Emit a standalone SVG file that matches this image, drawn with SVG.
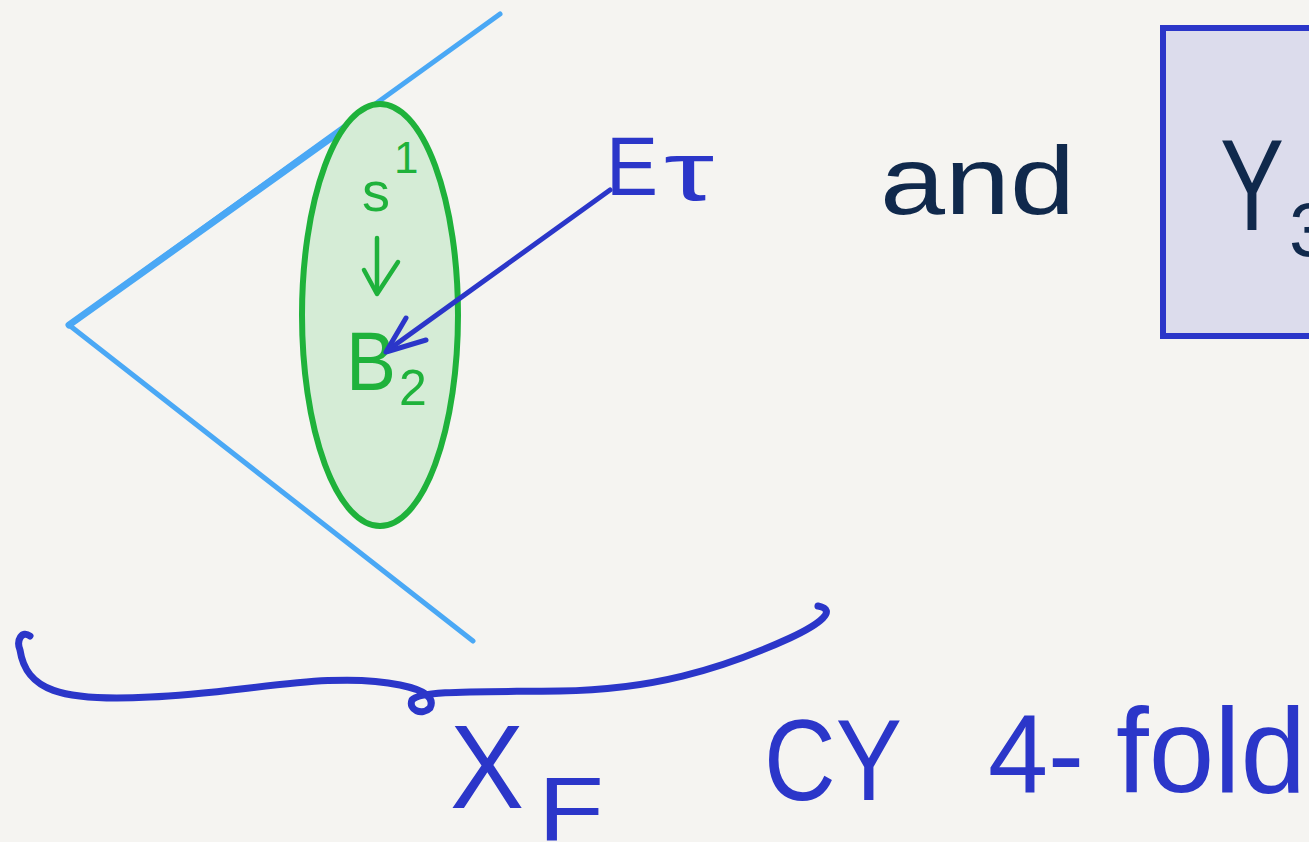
<svg xmlns="http://www.w3.org/2000/svg" width="1309" height="842" viewBox="0 0 1309 842">
<defs>
<style>
.hand{font-family:"Liberation Sans","DejaVu Sans",sans-serif;}
.blue{fill:#2b36c9;}
.green{fill:#1fb23b;}
.navy{fill:#10294c;}
.ink{fill:none;stroke-linecap:round;stroke-linejoin:round;}
</style>
</defs>
<rect width="1309" height="842" fill="#f5f4f1"/>

<g id="cone">
<path class="ink" d="M500 14 L69 325 L473 641" stroke="#4aa8f5" stroke-width="5"/>
<path class="ink" d="M380 103 L69 325" stroke="#4aa8f5" stroke-width="7"/>
</g>

<g id="fiber">
<ellipse cx="380" cy="315" rx="78" ry="211" fill="#d5ecd6" stroke="#1fb23b" stroke-width="6"/>
<text class="hand green" x="362" y="211" font-size="56">s</text>
<text class="hand green" x="394" y="173" font-size="44">1</text>
<text class="hand green" x="346" y="390" font-size="84" textLength="50" lengthAdjust="spacingAndGlyphs">B</text>
<text class="hand green" x="399" y="405" font-size="50">2</text>
</g>

<g id="label-E">
<text class="hand blue" x="606" y="195" font-size="84" textLength="52" lengthAdjust="spacingAndGlyphs">E</text>
<text class="hand blue" x="664" y="200" font-size="84" textLength="50" lengthAdjust="spacingAndGlyphs">τ</text>
</g>

<g id="and">
<text class="hand navy" x="880" y="214" font-size="96" textLength="195" lengthAdjust="spacingAndGlyphs">and</text>
</g>

<g id="box-Y3">
<rect x="1163" y="28" width="160" height="308" fill="#dcdcec" stroke="#2b36c9" stroke-width="6"/>
<text class="hand navy" x="1220" y="230" font-size="130" textLength="64" lengthAdjust="spacingAndGlyphs">Y</text>
<text class="hand navy" x="1289" y="256" font-size="76">3</text>
</g>

<g id="base">
<path class="ink" d="M30 636 C22 630 16 640 20 650 C26 690 60 702 150 697 C240 694 330 670 400 685 C425 690 435 698 430 708 C422 716 408 710 412 700 C420 690 480 692 560 691 C650 690 720 670 790 638 C820 624 838 610 818 606" stroke="#2b36c9" stroke-width="7"/>
<text class="hand blue" x="450" y="808" font-size="118" textLength="74" lengthAdjust="spacingAndGlyphs">X</text>
<text class="hand blue" x="538" y="840" font-size="90" textLength="66" lengthAdjust="spacingAndGlyphs">F</text>
</g>

<g id="label-CY">
<text class="hand blue" x="764" y="800" font-size="115" textLength="138" lengthAdjust="spacingAndGlyphs">CY</text>
<text class="hand blue" x="988" y="792" font-size="112" textLength="96" lengthAdjust="spacingAndGlyphs">4-</text>
<text class="hand blue" x="1116" y="792" font-size="120" textLength="190" lengthAdjust="spacingAndGlyphs">fold</text>
</g>

<g id="connectors">
<path class="ink" d="M377 238 L377 292" stroke="#1fb23b" stroke-width="4.5"/>
<path class="ink" d="M364 270 L377 294 L398 262" stroke="#1fb23b" stroke-width="4.5"/>
<path class="ink" d="M610 190 L388 350" stroke="#2b36c9" stroke-width="5"/>
<path class="ink" d="M406 318 L386 352 L426 340" stroke="#2b36c9" stroke-width="5"/>
</g>
</svg>
